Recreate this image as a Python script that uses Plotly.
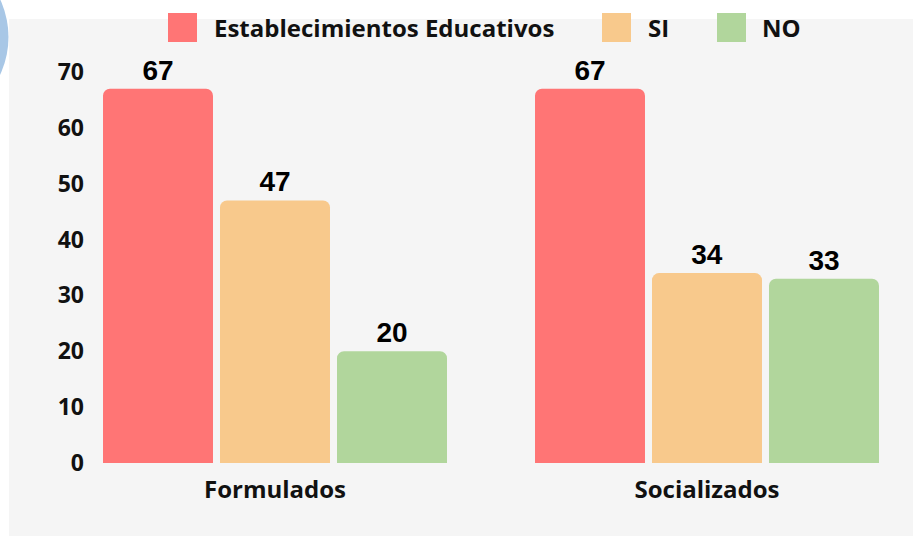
import plotly.graph_objects as go

# Data
categories = ["Formulados", "Socializados"]
series_names = ["Establecimientos Educativos", "SI", "NO"]
establecimientos = [67, 67]
si_values = [47, 34]
no_values = [20, 33]
series_colors = ["#ff7575", "#f8c98c", "#b1d69c"]
y_ticks = [0, 10, 20, 30, 40, 50, 60, 70]

# Figure geometry (pixels)
FIG_W, FIG_H = 913, 536
M_L, M_R, M_T, M_B = 90, 8, 72, 73
PLOT_W = FIG_W - M_L - M_R
PLOT_H = FIG_H - M_T - M_B


def px_x(px):
    return (px - M_L) / PLOT_W


def px_y(py):
    return (FIG_H - M_B - py) / PLOT_H


fig = go.Figure()
for name, vals, color in zip(series_names, [establecimientos, si_values, no_values], series_colors):
    fig.add_trace(go.Bar(
        name=name,
        x=categories,
        y=vals,
        marker=dict(color=color, line=dict(width=0)),
        text=vals,
        texttemplate="%{text}",
        textposition="outside",
        cliponaxis=False,
        textfont=dict(family="Liberation Sans, Arial", size=28, color="#000000", weight="bold"),
        showlegend=False,
    ))

CIRCLE_CX, CIRCLE_CY, CIRCLE_R = -80.5, 37, 89
shapes = [
    # background panel
    dict(type="rect", xref="paper", yref="paper",
         x0=px_x(9), x1=px_x(FIG_W + 5), y0=px_y(FIG_H + 5), y1=px_y(19),
         fillcolor="#f5f5f5", line=dict(width=0), layer="below"),
    # decorative circle in the corner
    dict(type="circle", xref="paper", yref="paper",
         x0=px_x(CIRCLE_CX - CIRCLE_R), x1=px_x(CIRCLE_CX + CIRCLE_R),
         y0=px_y(CIRCLE_CY + CIRCLE_R), y1=px_y(CIRCLE_CY - CIRCLE_R),
         fillcolor="#a8c7e6", line=dict(width=0), layer="below"),
]

annotations = []
legend_items = [(168, 215), (602, 649), (717, 763)]
for (sx, tx), name, color in zip(legend_items, series_names, series_colors):
    shapes.append(dict(type="rect", xref="paper", yref="paper",
                       x0=px_x(sx), x1=px_x(sx + 29), y0=px_y(42), y1=px_y(13),
                       fillcolor=color, line=dict(width=0)))
    annotations.append(dict(text=name, xref="paper", yref="paper",
                            x=px_x(tx - 3), y=px_y(27.5), xanchor="left", yanchor="middle",
                            showarrow=False,
                            font=dict(family="Open Sans", size=24, color="#111111", weight="bold")))

fig.update_layout(
    width=FIG_W, height=FIG_H,
    margin=dict(l=M_L, r=M_R, t=M_T, b=M_B, pad=0),
    paper_bgcolor="#ffffff",
    plot_bgcolor="rgba(0,0,0,0)",
    barmode="group",
    bargap=0.1875,
    bargroupgap=0.06,
    barcornerradius=7,
    shapes=shapes,
    annotations=annotations,
    xaxis=dict(
        range=[-(275 - M_L) / 432, 1 + (FIG_W - M_R - 707) / 432],
        showgrid=False, zeroline=False, showline=False, ticks="",
        tickfont=dict(family="Open Sans", size=24, color="#111111", weight="bold"),
        ticklabelstandoff=10,
    ),
    yaxis=dict(
        range=[0, 70],
        tickvals=y_ticks,
        showgrid=False, zeroline=False, showline=False, ticks="",
        tickfont=dict(family="Open Sans", size=23, color="#111111", weight="bold"),
        ticklabelstandoff=5,
    ),
)

fig.write_html("out.html")
